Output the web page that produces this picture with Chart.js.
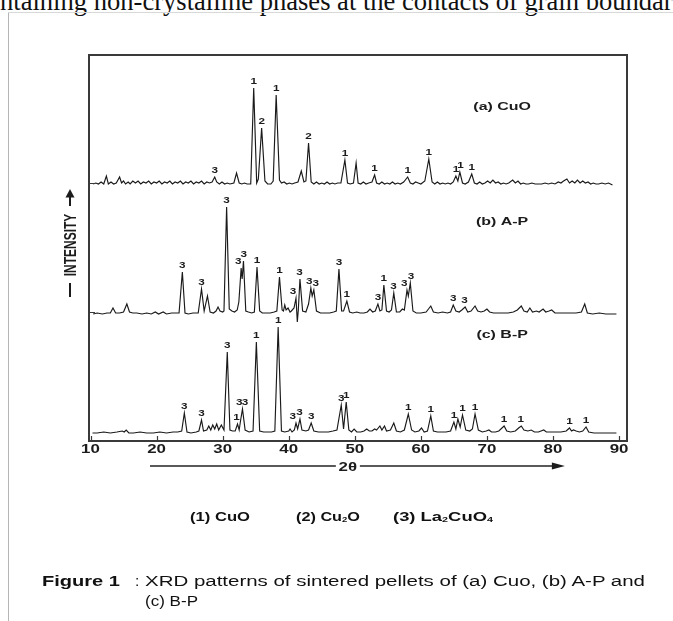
<!DOCTYPE html>
<html><head><meta charset="utf-8">
<script src="https://cdn.jsdelivr.net/npm/chart.js@4.4.1/dist/chart.umd.min.js"></script>
<style>
html,body{margin:0;padding:0;background:#fff;width:673px;height:621px;overflow:hidden;position:relative}
#c{position:absolute;left:0;top:0}
#topText{position:absolute;left:0;top:-10px;white-space:nowrap;font-family:"Liberation Serif";font-size:22px;line-height:22px;color:#111}
.vline{position:absolute;left:8px;top:12px;width:1px;height:609px;background:#b5b5b5}
.hline{position:absolute;left:8px;top:12px;width:665px;height:1px;background:#d8d8d8}
.leg{position:absolute;top:509px;font-family:"Liberation Sans";font-weight:bold;font-size:12px;line-height:16px;white-space:nowrap;transform-origin:left top;color:#111}
.leg sub{font-size:7px;vertical-align:-1px}
.cap{position:absolute;font-family:"Liberation Sans";font-size:15.5px;line-height:18px;white-space:nowrap;transform-origin:left top;color:#111}
</style></head>
<body>
<div id="topText"><span id="hid">co</span><span id="vis">ntaining non-crystalline phases at the contacts of grain boundar</span>ies</div>
<div class="vline"></div><div class="hline"></div>
<canvas id="c" width="673" height="621"></canvas>
<div class="leg" id="leg1" style="left:190px">(1) CuO</div>
<div class="leg" id="leg2" style="left:296px">(2) Cu<sub>2</sub>O</div>
<div class="leg" id="leg3" style="left:393px">(3) La<sub>2</sub>CuO<sub>4</sub></div>
<div class="cap" id="cap1" style="left:42px;top:572px"><b>Figure 1</b></div>
<div class="cap" id="cap2" style="left:135px;top:572px">:</div>
<div class="cap" id="cap3" style="left:145px;top:572px">XRD patterns of sintered pellets of (a) Cuo, (b) A-P and</div>
<div class="cap" id="cap4" style="left:145px;top:592px">(c) B-P</div>
<script>
// ---- data (2θ in degrees, intensity in arbitrary units above each pattern's baseline) ----
const xTicks = [10, 20, 30, 40, 50, 60, 70, 80, 90];
const seriesNames = ['(a) CuO', '(b) A-P', '(c) B-P'];
const cuoPattern = [[10.4,1],[10.8,2],[11.2,1],[11.6,3],[12.0,1],[12.4,9],[12.7,1],[13.1,3],[13.5,1],[13.9,2],[14.4,8],[14.7,2],[15.0,4],[15.3,1],[15.7,3],[16.0,1],[16.4,4],[16.8,2],[17.2,4],[17.6,1],[18.0,3],[18.4,2],[18.8,4],[19.2,1],[19.6,3],[20.0,2],[20.4,4],[20.8,1],[21.2,3],[21.6,2],[22.0,4],[22.4,1],[22.8,3],[23.2,2],[23.6,4],[24.0,1],[24.4,3],[24.8,2],[25.2,4],[25.6,1],[26.0,3],[26.4,2],[26.8,4],[27.2,1],[27.6,3],[28.0,2],[28.4,3],[28.8,8],[29.1,3],[29.5,1],[29.9,3],[30.3,1],[30.7,2],[31.1,1],[31.7,2],[32.1,12],[32.5,2],[32.9,1],[33.3,2],[33.7,1],[34.25,1],[34.7,97],[35.15,2],[35.4,6],[35.9,57],[36.4,4],[36.8,1],[37.3,1],[37.65,4],[38.1,90],[38.6,5],[38.9,2],[39.3,3],[39.7,1],[40.1,2],[40.5,1],[40.9,2],[41.4,3],[41.9,14],[42.3,3],[42.6,4],[43.0,42],[43.4,3],[43.8,1],[44.2,3],[44.6,1],[45.0,2],[45.4,1],[45.8,3],[46.2,1],[46.6,2],[47.0,1],[47.4,2],[47.9,2],[48.5,25],[48.9,2],[49.3,1],[49.8,2],[50.2,22],[50.5,2],[50.9,1],[51.3,3],[51.7,1],[52.1,2],[52.6,3],[53.0,10],[53.3,2],[53.7,1],[54.1,3],[54.5,1],[54.9,2],[55.3,1],[55.7,3],[56.1,1],[56.5,2],[56.9,1],[57.4,3],[58.0,8],[58.4,2],[58.8,1],[59.2,3],[59.6,2],[60.0,1],[60.6,4],[61.2,26],[61.7,3],[62.1,1],[62.5,3],[62.9,1],[63.3,2],[63.7,1],[64.1,2],[64.5,1],[64.9,3],[65.3,9],[65.6,4],[65.9,13],[66.3,2],[66.7,1],[67.2,3],[67.7,11],[68.1,2],[68.5,1],[68.9,3],[69.3,1],[69.7,2],[70.1,4],[70.5,2],[70.9,5],[71.3,2],[71.7,3],[72.1,1],[72.5,2],[72.9,1],[73.3,2],[73.9,5],[74.3,2],[74.7,4],[75.1,1],[75.5,2],[75.9,1],[76.3,1],[76.8,2],[77.3,1],[77.8,1],[78.3,1],[78.8,2],[79.3,1],[79.8,2],[80.3,1],[80.8,3],[81.2,2],[81.6,4],[82.1,6],[82.5,2],[82.9,4],[83.3,2],[83.7,5],[84.1,2],[84.5,4],[84.9,2],[85.3,3],[85.7,1],[86.1,2],[86.5,1],[86.9,1],[87.4,2],[87.9,1],[88.4,2],[89.0,0]];
const apPattern = [[10.4,0],[11.0,1],[11.8,0],[12.5,1],[13.0,1],[13.4,6],[13.8,1],[14.4,1],[15.0,2],[15.5,10],[15.9,2],[16.4,1],[17.0,1],[17.8,0],[18.5,1],[19.2,0],[19.8,2],[20.3,0],[21.0,2],[21.5,0],[22.3,1],[23.4,1],[23.9,42],[24.3,1],[24.8,0],[25.5,1],[26.3,1],[26.8,25],[27.2,3],[27.7,18],[28.1,2],[28.6,1],[29.0,3],[29.3,7],[29.6,3],[30.0,2],[30.2,3],[30.6,107],[31.0,5],[31.4,3],[31.8,2],[32.2,4],[32.45,12],[32.8,46],[32.95,35],[33.15,53],[33.5,3],[33.9,2],[34.4,1],[34.8,2],[35.2,47],[35.6,3],[36.0,1],[36.6,1],[37.2,1],[37.8,2],[38.2,3],[38.6,37],[39.0,4],[39.2,3],[39.4,9],[39.6,4],[39.9,6],[40.2,2],[40.4,3],[40.8,6],[41.1,16],[41.3,-8],[41.45,4],[41.7,35],[42.1,3],[42.6,2],[43.0,10],[43.35,26],[43.55,18],[43.8,24],[44.2,3],[44.8,1],[45.5,1],[46.2,1],[46.8,2],[47.2,3],[47.6,45],[48.0,3],[48.3,3],[48.8,13],[49.2,2],[49.7,1],[50.3,2],[50.8,1],[51.4,1],[51.9,2],[52.3,5],[52.7,2],[53.1,3],[53.5,10],[53.8,3],[54.1,4],[54.4,29],[54.8,3],[55.2,2],[55.55,4],[55.9,21],[56.3,2],[56.8,2],[57.2,5],[57.5,4],[57.9,24],[58.1,18],[58.4,31],[58.8,3],[59.3,1],[60.0,1],[60.8,2],[61.5,8],[61.9,2],[62.6,1],[63.3,2],[64.0,1],[64.5,2],[64.9,9],[65.3,3],[65.8,2],[66.2,4],[66.7,7],[67.1,2],[67.6,3],[68.2,8],[68.6,3],[69.1,2],[69.6,3],[70.0,5],[70.4,2],[71.0,1],[71.8,1],[72.5,1],[73.2,1],[74.0,2],[74.6,4],[75.2,8],[75.6,3],[76.1,2],[76.5,6],[76.9,2],[77.5,3],[77.9,2],[78.5,5],[78.9,2],[79.4,3],[79.8,4],[80.3,1],[81.0,1],[81.8,1],[82.6,1],[83.5,1],[84.3,2],[84.8,10],[85.2,1],[86.0,0],[87.0,1],[88.0,0],[89.6,0]];
const bpPattern = [[10.3,0],[11.0,0],[12.0,1],[13.0,0],[14.0,1],[14.8,2],[15.1,1],[15.4,3],[15.8,0],[16.5,0],[17.5,1],[18.5,0],[19.5,0],[20.5,1],[21.5,0],[22.5,1],[23.2,1],[23.8,2],[24.2,20],[24.6,1],[25.2,0],[26.0,1],[26.4,2],[26.8,13],[27.1,2],[27.6,3],[27.9,7],[28.2,3],[28.5,8],[28.8,4],[29.1,9],[29.4,3],[29.8,8],[30.2,3],[30.7,81],[31.1,3],[31.5,2],[31.9,2],[32.25,9],[32.5,3],[32.7,12],[33.0,24],[33.4,3],[34.0,1],[34.6,2],[35.1,91],[35.6,2],[36.2,1],[36.8,1],[37.4,1],[37.9,2],[38.4,106],[38.9,2],[39.4,1],[40.0,2],[40.2,4],[40.5,1],[40.85,3],[41.1,10],[41.35,4],[41.7,14],[42.0,3],[42.6,2],[43.0,3],[43.4,10],[43.8,2],[44.5,1],[45.3,1],[46.0,1],[46.7,2],[47.3,3],[47.95,28],[48.3,4],[48.7,31],[49.1,3],[49.5,1],[49.9,4],[50.3,1],[50.9,1],[51.4,2],[51.8,4],[52.2,2],[52.6,2],[53.0,4],[53.3,3],[53.8,7],[54.1,3],[54.5,7],[54.8,2],[55.4,3],[55.9,10],[56.3,2],[56.9,1],[57.5,3],[58.1,19],[58.6,3],[59.1,1],[59.7,2],[60.1,5],[60.5,1],[61.0,2],[61.5,17],[61.9,2],[62.5,1],[63.2,1],[63.8,1],[64.5,2],[65.0,11],[65.3,4],[65.6,14],[65.95,6],[66.3,18],[66.8,3],[67.4,2],[67.8,4],[68.2,19],[68.7,3],[69.3,1],[69.9,2],[70.3,3],[70.7,1],[71.3,1],[71.8,2],[72.6,7],[73.0,2],[73.6,1],[74.3,2],[74.8,5],[75.2,7],[75.6,3],[76.2,2],[76.7,3],[77.2,1],[77.8,1],[78.6,3],[79.0,1],[79.6,1],[80.4,1],[81.2,1],[82.0,2],[82.5,5],[82.8,2],[83.1,3],[83.5,2],[84.0,1],[84.5,2],[85.0,6],[85.4,1],[86.2,0],[87.5,0],[89.6,0]];
const cuoPeaks = [[28.8,'3'],[34.7,'1'],[35.9,'2'],[38.1,'1'],[43.0,'2'],[48.5,'1'],[53.0,'1'],[58.0,'1'],[61.2,'1'],[65.3,'1'],[66.0,'1'],[67.7,'1']];
const apPeaks = [[23.9,'3'],[26.8,'3'],[30.6,'3'],[32.35,'3'],[33.2,'3'],[35.2,'1'],[38.6,'1'],[40.65,'3'],[41.65,'3'],[43.1,'3'],[44.1,'3'],[47.6,'3'],[48.8,'1'],[53.5,'3'],[54.4,'1'],[55.85,'3'],[57.5,'3'],[58.5,'3'],[64.9,'3'],[66.6,'3']];
const bpPeaks = [[24.2,'3'],[26.8,'3'],[30.7,'3'],[32.1,'1'],[32.5,'3'],[33.4,'3'],[35.1,'1'],[38.4,'1'],[40.6,'3'],[41.65,'3'],[43.4,'3'],[47.95,'3'],[48.7,'1'],[58.1,'1'],[61.5,'1'],[65.0,'1'],[66.3,'1'],[68.2,'1'],[72.6,'1'],[75.1,'1'],[82.5,'1'],[85.0,'1']];

// ---- presentation ----
const patterns = [cuoPattern, apPattern, bpPattern];
const peakSets = [cuoPeaks, apPeaks, bpPeaks];
const offsets = [256, 127, 8];
const nameLift = [78, 92, 98];

function sText(ctx, txt, x, y, sx, align, base) {
  ctx.save(); ctx.translate(x, y); ctx.scale(sx, 1);
  ctx.textAlign = align; ctx.textBaseline = base; ctx.fillText(txt, 0, 0); ctx.restore();
}
function localMax(p, t) {
  let m = -Infinity;
  for (const [x, v] of p) if (Math.abs(x - t) <= 0.5 + 1e-6) m = Math.max(m, v);
  return m;
}

const deco = {
  id: 'deco',
  afterDatasetsDraw(chart) {
    const ctx = chart.ctx, a = chart.chartArea, xs = chart.scales.x, ys = chart.scales.y;
    ctx.save();
    ctx.fillStyle = '#1c1c1c'; ctx.strokeStyle = '#3a3a3a';
    // frame
    ctx.lineWidth = 2;
    ctx.strokeRect(a.left, a.top, a.right - a.left, a.bottom - a.top);
    // inward ticks
    ctx.lineWidth = 1.2;
    ctx.beginPath();
    xTicks.forEach(t => { const x = Math.round(xs.getPixelForValue(t)) + 0.5; ctx.moveTo(x, a.bottom); ctx.lineTo(x, a.bottom - 5); });
    [offsets[0], offsets[1]].forEach(o => { const y = Math.round(ys.getPixelForValue(o)) - 1.5; ctx.moveTo(a.left, y); ctx.lineTo(a.left + 6, y); });
    ctx.stroke();
    // tick labels
    ctx.font = 'bold 13px "Liberation Sans"';
    xTicks.forEach(t => sText(ctx, String(t), xs.getPixelForValue(t), a.bottom + 8.5, 1.3, 'center', 'middle'));
    // x title with arrow
    const x0 = xs.getPixelForValue(19.0), x1 = xs.getPixelForValue(81.8), xm = xs.getPixelForValue(48.95);
    const ya = a.bottom + 25;
    ctx.lineWidth = 1.5; ctx.strokeStyle = '#222';
    ctx.beginPath(); ctx.moveTo(x0, ya); ctx.lineTo(x1 - 10, ya); ctx.stroke();
    ctx.beginPath(); ctx.moveTo(x1, ya); ctx.lineTo(x1 - 13, ya - 3.5); ctx.lineTo(x1 - 13, ya + 3.5); ctx.closePath(); ctx.fill();
    ctx.fillStyle = '#fff'; ctx.fillRect(xm - 12, ya - 7, 24, 14);
    ctx.fillStyle = '#1c1c1c';
    ctx.font = 'bold 13px "Liberation Sans"';
    sText(ctx, '2θ', xm, ya + 1, 1.3, 'center', 'middle');
    // y title: dash, text, arrow
    ctx.save();
    ctx.translate(70, 245); ctx.rotate(-Math.PI / 2); ctx.scale(1, 1.45);
    ctx.font = 'bold 12px "Liberation Sans"'; ctx.textAlign = 'center'; ctx.textBaseline = 'middle';
    ctx.fillText('INTENSITY', 0, 0.5);
    ctx.restore();
    ctx.strokeStyle = '#1c1c1c'; ctx.lineWidth = 2;
    ctx.beginPath(); ctx.moveTo(70, 283); ctx.lineTo(70, 297); ctx.stroke();
    ctx.beginPath(); ctx.moveTo(70, 206); ctx.lineTo(70, 196); ctx.stroke();
    ctx.beginPath(); ctx.moveTo(70, 189); ctx.lineTo(65.5, 197.5); ctx.lineTo(74.5, 197.5); ctx.closePath(); ctx.fill();
    // series names and peak labels
    patterns.forEach((p, i) => {
      ctx.font = 'bold 11px "Liberation Sans"';
      sText(ctx, seriesNames[i], xs.getPixelForValue(72.3), ys.getPixelForValue(offsets[i] + nameLift[i]), 1.45, 'center', 'middle');
      ctx.font = 'bold 9px "Liberation Sans"';
      peakSets[i].forEach(([t, lab]) => {
        const h = localMax(p, t);
        sText(ctx, lab, xs.getPixelForValue(t), ys.getPixelForValue(offsets[i] + h) - 1.5, 1.3, 'center', 'bottom');
      });
    });
    ctx.restore();
  }
};

new Chart(document.getElementById('c'), {
  type: 'scatter',
  data: {
    datasets: patterns.map((p, i) => ({
      label: seriesNames[i],
      data: p.map(([x, v]) => ({ x: x, y: v + offsets[i] })),
      showLine: true, borderColor: '#1a1a1a', borderWidth: 1.15, pointRadius: 0, tension: 0, fill: false
    }))
  },
  options: {
    responsive: false, animation: false, devicePixelRatio: 1,
    layout: { padding: { left: 89, top: 55, right: 46, bottom: 180 } },
    scales: {
      x: { type: 'linear', min: 9.77, max: 91.2, display: false },
      y: { type: 'linear', min: 0, max: 386, display: false }
    },
    plugins: { legend: { display: false }, tooltip: { enabled: false } }
  },
  plugins: [deco]
});

// fit page texts
(function () {
  const vis = document.getElementById('vis'), hid = document.getElementById('hid'), top = document.getElementById('topText');
  const w = vis.getBoundingClientRect().width;
  const fs = 22 * 673 / w;
  top.style.fontSize = fs + 'px';
  top.style.left = (-hid.getBoundingClientRect().width) + 'px';
  const fit = (id, target) => { const el = document.getElementById(id); const ww = el.getBoundingClientRect().width; el.style.transform = 'scaleX(' + (target / ww) + ')'; };
  fit('leg1', 60); fit('leg2', 64); fit('leg3', 100);
  fit('cap1', 78);
  fit('cap3', 500);
  document.getElementById('cap4').style.transform = 'scaleX(1.1)';
})();
</script>
</body></html>
